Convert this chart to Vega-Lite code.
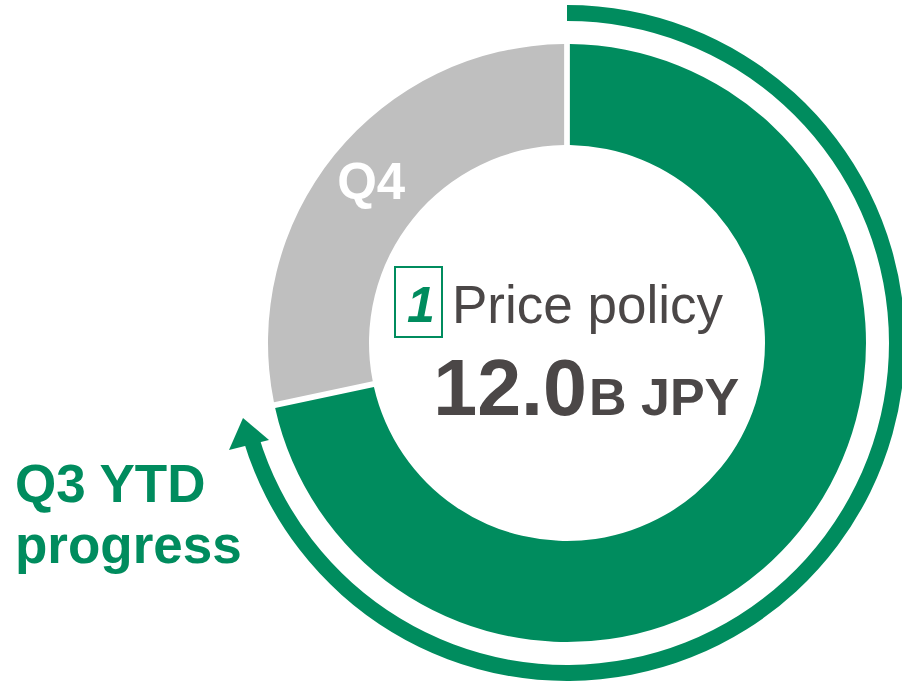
{
  "$schema": "https://vega.github.io/schema/vega-lite/v6.json",
  "width": 670,
  "height": 686,
  "autosize": "none",
  "padding": {"left": 232, "top": 0, "right": 0, "bottom": 0},
  "background": "white",
  "config": {"view": {"stroke": null}, "font": "Liberation Sans"},
  "datasets": {
    "segments": [
      {"seg": "Q3 YTD", "k": 1, "value": 8.6},
      {"seg": "Q4", "k": 2, "value": 3.4}
    ],
    "progress": [{"start": 0, "end": 8.45}],
    "labels": [
      {"id": "num", "label": "1"},
      {"id": "title", "label": "Price policy"},
      {"id": "amount", "label": "12.0"},
      {"id": "unit", "label": "B JPY"},
      {"id": "side", "label": "Q3 YTD\nprogress"}
    ]
  },
  "layer": [
    {
      "data": {"name": "segments"},
      "mark": {"type": "arc", "outerRadius": 299, "innerRadius": 198, "padAngle": 0.016},
      "encoding": {
        "theta": {"field": "value", "type": "quantitative", "stack": true, "scale": {"domain": [0, 12]}},
        "order": {"field": "k", "type": "quantitative", "sort": "ascending"},
        "color": {"field": "seg", "type": "nominal", "scale": {"domain": ["Q3 YTD", "Q4"], "range": ["#008C5E", "#BFBFBF"]}, "legend": null}
      }
    },
    {
      "data": {"name": "segments"},
      "mark": {"type": "text", "radius": 252, "fontSize": 51, "fontWeight": "bold", "color": "#FFFFFF", "align": "center", "baseline": "middle"},
      "encoding": {
        "theta": {"field": "value", "type": "quantitative", "stack": true, "scale": {"domain": [0, 12]}},
        "order": {"field": "k", "type": "quantitative", "sort": "ascending"},
        "text": {"condition": {"test": "datum.seg === 'Q4'", "field": "seg"}, "value": ""}
      }
    },
    {
      "data": {"name": "progress"},
      "mark": {"type": "arc", "outerRadius": 338, "innerRadius": 322, "color": "#008C5E"},
      "encoding": {
        "theta": {"field": "start", "type": "quantitative", "scale": {"domain": [0, 12]}},
        "theta2": {"field": "end"}
      }
    },
    {
      "data": {"name": "progress"},
      "mark": {"type": "point", "shape": "M-324,75L-338,107L-298,97Z", "size": 4, "filled": true, "color": "#008C5E", "opacity": 1, "strokeWidth": 0}
    },
    {
      "data": {"name": "progress"},
      "mark": {"type": "point", "shape": "M-172,-76L-125,-76L-125,-6L-172,-6Z", "size": 4, "filled": false, "color": "#008C5E", "opacity": 1, "strokeWidth": 2}
    },
    {
      "data": {"name": "labels"},
      "transform": [{"filter": "datum.id === 'num'"}],
      "mark": {"type": "text", "fontSize": 50, "fontWeight": "bold", "fontStyle": "italic", "color": "#008C5E", "align": "center", "baseline": "alphabetic", "dx": -146, "dy": -21},
      "encoding": {"text": {"field": "label"}}
    },
    {
      "data": {"name": "labels"},
      "transform": [{"filter": "datum.id === 'title'"}],
      "mark": {"type": "text", "fontSize": 53, "color": "#4B4747", "align": "left", "baseline": "alphabetic", "dx": -115, "dy": -20},
      "encoding": {"text": {"field": "label"}}
    },
    {
      "data": {"name": "labels"},
      "transform": [{"filter": "datum.id === 'amount'"}],
      "mark": {"type": "text", "fontSize": 79, "fontWeight": "bold", "color": "#4B4747", "align": "right", "baseline": "alphabetic", "dx": 20, "dy": 72},
      "encoding": {"text": {"field": "label"}}
    },
    {
      "data": {"name": "labels"},
      "transform": [{"filter": "datum.id === 'unit'"}],
      "mark": {"type": "text", "fontSize": 52, "fontWeight": "bold", "color": "#4B4747", "align": "left", "baseline": "alphabetic", "dx": 22, "dy": 72},
      "encoding": {"text": {"field": "label"}}
    },
    {
      "data": {"name": "labels"},
      "transform": [{"filter": "datum.id === 'side'"}],
      "mark": {"type": "text", "fontSize": 53, "fontWeight": "bold", "color": "#008C5E", "align": "left", "baseline": "alphabetic", "lineBreak": "\n", "lineHeight": 61, "dx": -552, "dy": 159},
      "encoding": {"text": {"field": "label"}}
    }
  ]
}
